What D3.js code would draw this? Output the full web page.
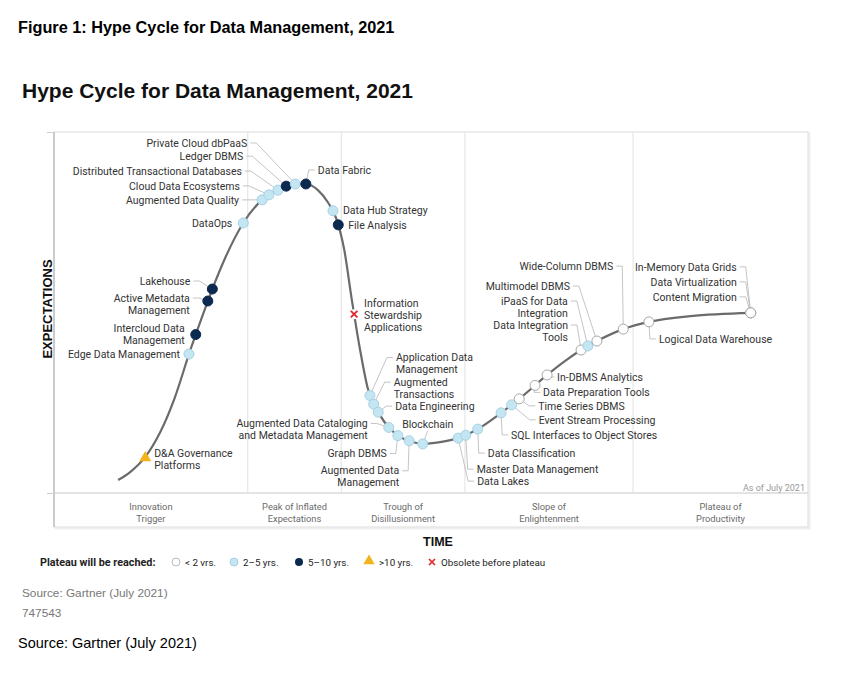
<!DOCTYPE html>
<html><head><meta charset="utf-8">
<script src="https://cdn.jsdelivr.net/npm/d3@7"></script>
<style>body{margin:0;background:#fff}svg{display:block}</style>
</head><body>
<svg id="chart" width="850" height="681"></svg>
<script>
// ---------- data ----------
const curveTime   = [8.5,10.1,12.1,14.1,16.0,18.0,19.4,21.0,22.7,25.1,27.6,29.7,32.0,33.4,35.0,36.3,37.4,38.5,39.5,40.6,41.6,43.0,44.6,45.9,47.2,48.9,51.2,53.6,56.2,59.3,62.3,65.4,67.8,69.9,72.0,75.5,78.9,84.4,92.4];
const curveExpect = [3.6,5.8,10.0,16.9,26.3,39.1,47.4,56.5,65.1,74.8,81.2,83.9,85.6,85.6,83.9,80.6,76.2,67.3,53.5,39.6,29.1,22.4,17.7,15.5,14.4,13.6,14.1,15.2,17.7,22.2,27.1,32.7,36.6,39.6,42.1,45.4,47.4,49.0,49.9];

const techNames = [
 "D&A Governance\nPlatforms","Edge Data Management","Intercloud Data\nManagement","Active Metadata\nManagement","Lakehouse",
 "DataOps","Augmented Data Quality","Cloud Data Ecosystems","Distributed Transactional Databases","Ledger DBMS",
 "Private Cloud dbPaaS","Data Fabric","Data Hub Strategy","File Analysis","Information\nStewardship\nApplications",
 "Application Data\nManagement","Augmented\nTransactions","Data Engineering","Augmented Data Cataloging\nand Metadata Management","Graph DBMS",
 "Augmented Data\nManagement","Blockchain","Data Lakes","Master Data Management","Data Classification",
 "SQL Interfaces to Object Stores","Event Stream Processing","Time Series DBMS","Data Preparation Tools","In-DBMS Analytics",
 "Data Integration\nTools","iPaaS for Data\nIntegration","Multimodel DBMS","Wide-Column DBMS","Logical Data Warehouse",
 "In-Memory Data Grids","Data Virtualization","Content Migration"];
const techTime = [12.1,17.9,18.8,20.4,21.0, 25.1,27.6,28.5,29.7,30.8, 32.0,33.4,37.0,37.7,39.8,
 41.9,42.4,43.0,44.4,45.6, 47.1,48.9,53.6,54.6,56.2, 59.3,60.7,61.7,63.8,65.4, 69.9,70.8,72.0,75.5,78.9, 92.4,92.4,92.4];
const techStatus = ["gt10","2to5","5to10","5to10","5to10", "2to5","2to5","2to5","2to5","5to10", "2to5","5to10","2to5","5to10","obsolete",
 "2to5","2to5","2to5","2to5","2to5", "2to5","2to5","2to5","2to5","2to5", "2to5","2to5","lt2","lt2","lt2", "lt2","2to5","lt2","lt2","lt2", "lt2","lt2","lt2"];

const phaseNames = ["Innovation\nTrigger","Peak of Inflated\nExpectations","Trough of\nDisillusionment","Slope of\nEnlightenment","Plateau of\nProductivity"];
const phaseEnds = [25.7,38.1,54.5,76.8,100];

const legendStatus = ["lt2","2to5","5to10","gt10","obsolete"];
const legendLabels = ["< 2 vrs.","2–5 yrs.","5–10 yrs.",">10 yrs.","Obsolete before plateau"];

// ---------- layout (label offsets from marker, px) ----------
const labelLayout = [
 [9,-4,"start",0],[-9,0,"end",0],[-11,-6,"end",0],[-18,-3,"end",1],[-22,-8,"end",1],
 [-11,0,"end",0],[-23,0,"end",1],[-29,-9,"end",1],[-36,-19,"end",1],[-43,-30,"end",1],
 [-48,-41,"end",1],[12,-14,"start",1],[10,0,"start",0],[10,0,"start",0],[10,-11,"start",0],
 [26,-38,"start",1],[20,-22,"start",1],[17,-6,"start",1],[-21,-4,"end",1],[-11,18,"end",1],
 [-10,30,"end",1],[5,-20,"middle",2],[19,43,"start",1],[11,34,"start",1],[10,24,"start",1],
 [10,22,"start",1],[27,15,"start",1],[19,7,"start",1],[8,7,"start",1],[10,2,"start",1],
 [-13,-25,"end",1],[-20,-45,"end",1],[-27,-55,"end",1],[-10,-63,"end",1],[10,17,"start",1],
 [-14,-46,"end",1],[-14,-31,"end",1],[-14,-16,"end",1]];

const L = 54, R = 808, T = 132, B = 493, PB = 527;
const colors = {lt2:"#ffffff", "2to5":"#c4e5f2", "5to10":"#0c2a50", gt10:"#f2b41c", obsolete:"#e3262b"};
const strokes = {lt2:"#a8a8a8", "2to5":"#a6d2e4", "5to10":"#0c2a50"};
const ARIAL = "Liberation Sans, Arial, sans-serif";

const svg = d3.select("#chart");
const x = d3.scaleLinear().domain([0,100]).range([L,R]);
const y = d3.scaleLinear().domain([0,100]).range([B,T]);

// titles
svg.append("text").attr("x",18).attr("y",33).attr("font-family",ARIAL)
  .attr("font-weight","bold").attr("font-size",16.3).attr("fill","#000").text("Figure 1: Hype Cycle for Data Management, 2021");
svg.append("text").attr("x",22).attr("y",98).attr("font-family",ARIAL)
  .attr("font-weight","bold").attr("font-size",21).attr("fill","#111").text("Hype Cycle for Data Management, 2021");

// frame
svg.append("rect").attr("x",L+1.5).attr("y",T+1.5).attr("width",R-L).attr("height",PB-T).attr("fill","none").attr("stroke","#efefef").attr("stroke-width",2);
svg.append("rect").attr("x",L).attr("y",T).attr("width",R-L).attr("height",PB-T).attr("fill","#fff").attr("stroke","#dcdcdc");
svg.append("line").attr("x1",L).attr("x2",L).attr("y1",T).attr("y2",PB).attr("stroke","#aaa");
svg.append("line").attr("x1",L).attr("x2",R).attr("y1",B).attr("y2",B).attr("stroke","#c8c8c8");

// phase dividers
svg.append("g").selectAll("line").data(phaseEnds.slice(0,-1)).join("line")
  .attr("x1",d=>x(d)).attr("x2",d=>x(d)).attr("y1",T).attr("y2",B).attr("stroke","#e2e2e2");

// phase labels
const phaseStarts = [0].concat(phaseEnds.slice(0,-1));
svg.append("g").selectAll("text").data(phaseNames).join("text")
  .attr("x",(d,i)=>x((phaseStarts[i]+phaseEnds[i])/2)).attr("y",510)
  .attr("text-anchor","middle").attr("font-family","Roboto, sans-serif").attr("font-size",9.3).attr("fill","#6a6a6a")
  .each(function(d){ const t=d3.select(this); d.split("\n").forEach((s,k)=>t.append("tspan").attr("x",t.attr("x")).attr("dy",k?12:0).text(s)); });

// y-axis ticks (outside frame)
const yAxis = svg.append("g").attr("transform",`translate(${L-7},0)`)
  .call(d3.axisLeft(y).tickValues([0,100]).tickSize(7).tickFormat(""));
yAxis.select(".domain").remove();
yAxis.selectAll("line").attr("stroke","#cfcfcf").attr("transform","translate(7,0)");

// axis titles
svg.append("text").attr("transform","translate(52,309) rotate(-90)").attr("text-anchor","middle")
  .attr("font-family",ARIAL).attr("font-weight","bold").attr("font-size",13).attr("fill","#111").text("EXPECTATIONS");
svg.append("text").attr("x",438).attr("y",546).attr("text-anchor","middle")
  .attr("font-family",ARIAL).attr("font-weight","bold").attr("font-size",12.5).attr("fill","#111").text("TIME");
svg.append("text").attr("x",805).attr("y",491).attr("text-anchor","end").attr("font-family","Roboto, sans-serif")
  .attr("font-size",9).attr("fill","#999").text("As of July 2021");

// curve
const pts = curveTime.map((t,i)=>[t,curveExpect[i]]);
const line = d3.line().x(d=>x(d[0])).y(d=>y(d[1])).curve(d3.curveMonotoneX);
const curvePath = svg.append("path").datum(pts).attr("d",line).attr("fill","none").attr("stroke","#6b6b6b").attr("stroke-width",2.2);
const pn = curvePath.node(), total = pn.getTotalLength();
function yAtX(px){ let lo=0,hi=total; for(let i=0;i<40;i++){const m=(lo+hi)/2; if(pn.getPointAtLength(m).x<px) lo=m; else hi=m;} return pn.getPointAtLength((lo+hi)/2).y; }

const items = techNames.map((n,i)=>{ const mx=x(techTime[i]); const my=yAtX(mx); const lay=labelLayout[i];
  return {name:n, status:techStatus[i], mx, my, lx:mx+lay[0], ly:my+lay[1], anchor:lay[2], leader:lay[3]}; });

// leaders
const gl = svg.append("g").attr("fill","none").attr("stroke","#bdbdbd").attr("stroke-width",0.9);
items.filter(d=>d.leader).forEach(d=>{
  let p;
  if(d.leader===2) p=[[d.lx,d.ly+7],[d.mx,d.my]];
  else if(d.anchor==="end") p=[[d.lx+3,d.ly],[d.lx+9,d.ly],[d.mx,d.my]];
  else p=[[d.lx-3,d.ly],[d.lx-9,d.ly],[d.mx,d.my]];
  gl.append("path").attr("d",d3.line()(p));
});

// markers
function drawMarker(g, status, cx, cy){
  if(status==="gt10"){
    g.append("path").attr("d",d3.symbol(d3.symbolTriangle,62)()).attr("transform",`translate(${cx},${cy+1})`).attr("fill",colors.gt10);
  } else if(status==="obsolete"){
    g.append("circle").attr("cx",cx).attr("cy",cy).attr("r",5).attr("fill","#fff");
    g.append("path").attr("d",`M${cx-3.3},${cy-3.3}L${cx+3.3},${cy+3.3}M${cx-3.3},${cy+3.3}L${cx+3.3},${cy-3.3}`)
      .attr("stroke",colors.obsolete).attr("stroke-width",1.8);
  } else {
    g.append("circle").attr("cx",cx).attr("cy",cy).attr("r",5).attr("fill",colors[status]).attr("stroke",strokes[status]).attr("stroke-width",1);
  }
}
const gm = svg.append("g");
items.forEach(d=>drawMarker(gm,d.status,d.mx,d.my));

// labels
svg.append("g").selectAll("text").data(items).join("text")
  .attr("x",d=>d.lx).attr("y",d=>d.ly+3.7).attr("text-anchor",d=>d.anchor)
  .attr("font-family","Roboto, sans-serif").attr("font-size",10.5).attr("fill","#333")
  .each(function(d){ const t=d3.select(this); d.name.split("\n").forEach((s,k)=>t.append("tspan").attr("x",d.lx).attr("dy",k?12:0).text(s)); });

// legend
const lg = svg.append("g").attr("font-family","Roboto, sans-serif").attr("font-size",9.8).attr("fill","#222");
lg.append("text").attr("x",40).attr("y",565.5).attr("font-weight","bold").attr("font-size",10.8).text("Plateau will be reached:");
const legX = [176,234,299,369,432];
legendStatus.forEach((s,i)=>{
  const g = lg.append("g");
  if(s==="lt2") g.append("circle").attr("cx",legX[i]).attr("cy",562).attr("r",4).attr("fill","#fff").attr("stroke","#bbb");
  else if(s==="2to5") g.append("circle").attr("cx",legX[i]).attr("cy",562).attr("r",4).attr("fill",colors[s]).attr("stroke",strokes[s]);
  else if(s==="5to10") g.append("circle").attr("cx",legX[i]).attr("cy",562).attr("r",4).attr("fill",colors[s]);
  else if(s==="gt10") g.append("path").attr("d",d3.symbol(d3.symbolTriangle,55)()).attr("transform",`translate(${legX[i]},561)`).attr("fill",colors.gt10);
  else g.append("path").attr("d",`M${legX[i]-3},559L${legX[i]+3},565M${legX[i]-3},565L${legX[i]+3},559`).attr("stroke",colors.obsolete).attr("stroke-width",1.7);
  lg.append("text").attr("x",legX[i]+(s==="gt10"?10:9)).attr("y",565.5).text(legendLabels[i]);
});

// footer
svg.append("text").attr("x",22).attr("y",597).attr("font-family",ARIAL).attr("font-size",11.8).attr("fill","#777").text("Source: Gartner (July 2021)");
svg.append("text").attr("x",22).attr("y",617).attr("font-family",ARIAL).attr("font-size",11.8).attr("fill","#777").text("747543");
svg.append("text").attr("x",18).attr("y",648).attr("font-family",ARIAL).attr("font-size",14.5).attr("fill","#000").text("Source: Gartner (July 2021)");
</script>
</body></html>
